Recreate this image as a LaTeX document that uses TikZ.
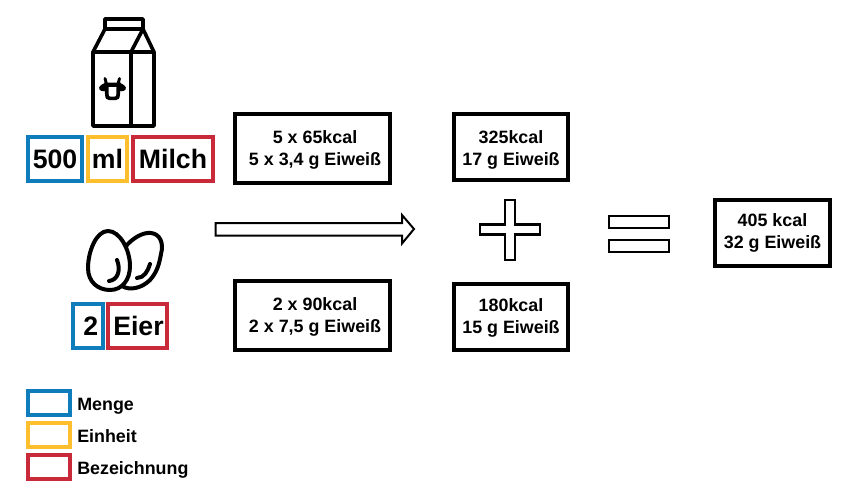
\documentclass[tikz,border=0pt]{standalone}
\usepackage{fontspec}
\setmainfont{Liberation Sans}
\usepackage{xcolor}
\usepackage{tikz}
\usetikzlibrary{positioning,calc}
\definecolor{mengeblue}{HTML}{0F7DBB}
\definecolor{einheityellow}{HTML}{FDBF2D}
\definecolor{namered}{HTML}{C92A39}

\begin{document}
\begin{tikzpicture}[
  x=0.75pt, y=-0.75pt,
  word/.style={draw, line width=2.7pt, font=\bfseries\fontsize{20}{24}\selectfont, inner sep=0pt, minimum height=33.3pt},
  calc/.style={draw=black, line width=3pt, align=center, font=\bfseries\fontsize{13.4}{16.5}\selectfont, inner sep=0pt},
  legend/.style={draw, line width=2.7pt, minimum width=31.5pt, minimum height=18pt, inner sep=0pt},
  legendtext/.style={font=\bfseries\fontsize{13.4}{16}\selectfont, inner sep=0pt, anchor=base west},
  symbol/.style={draw=black, line width=1.7pt, fill=white},
  icon/.style={draw=black, line width=2.7pt, line join=round, line cap=round}
]
\useasboundingbox (0,0) rectangle (861,500);

% milk carton
\draw[icon] (93,52) rectangle (154,126);
\draw[icon] (131,52) -- (131,126);
\draw[icon] (93,52) -- (105,29) -- (143,29) -- (154,52);
\draw[icon] (131,52) -- (143,29);
\draw[icon] (105,29) -- (105,19) -- (143,19) -- (143,29);
% cow head
\fill[black] (104,82.5) -- (121,82.5) -- (120,94) .. controls (120,99) and (118,100) .. (116,100) -- (109,100) .. controls (107,100) and (105,99) .. (105,94) -- cycle;
\fill[white] (108.5,87) -- (116.5,87) -- (116.3,94) .. controls (116.3,96) and (115.5,96.5) .. (114.5,96.5) -- (110.5,96.5) .. controls (109.5,96.5) and (108.7,96) .. (108.7,94) -- cycle;
\fill[black] (105,83) .. controls (101,84.5) and (98,87) .. (99.5,89.5) .. controls (101,91.5) and (105,92) .. (107,90) -- cycle;
\fill[black] (120,83) .. controls (124,84.5) and (127,87) .. (125.5,89.5) .. controls (124,91.5) and (120,92) .. (118,90) -- cycle;
\draw[black, line width=2.2pt, line cap=round] (105,78.5) -- (106.5,84);
\draw[black, line width=2.2pt, line cap=round] (119.5,78.5) -- (118,84);

% eggs
\draw[icon, line width=3pt] (126,246) .. controls (133,238) and (143,232) .. (151,233) .. controls (160,234) and (164,243) .. (161,254) .. controls (159,265) and (157,272) .. (150,280) .. controls (142,288) and (130,291) .. (122,286);
\draw[icon, line width=3pt] (137,278) .. controls (144,278) and (148,271) .. (150,264);
\draw[icon, line width=3pt] (108,231) .. controls (96,231) and (88,252) .. (88,268) .. controls (88,282) and (98,290) .. (110,290) .. controls (122,290) and (130,280) .. (130,266) .. controls (130,250) and (120,231) .. (108,231) -- cycle;
\draw[icon, line width=3pt] (117,260) .. controls (121,270) and (118,280) .. (109,281);

\node[word, draw=mengeblue, minimum width=40.9pt] (menge1) at (55,159) {500};
\node[word, draw=einheityellow, minimum width=29.6pt] (einheit1) at (107.5,159) {ml};
\node[word, draw=namered, minimum width=60.3pt] (name1) at (173,159) {Milch};
\node[word, draw=mengeblue, minimum width=22.8pt] (menge2) at (88,326) {\kern4pt 2};
\node[word, draw=namered, minimum width=44.6pt] (name2) at (137.5,326) {\kern1.5pt Eier};

\node[calc, minimum width=116.25pt, minimum height=51.75pt] (calc1) at (312.5,148.5) {\rule{0pt}{11.5pt}\kern3.8pt 5 x 65kcal\\\kern3.8pt 5 x 3,4 g Eiweiß};
\node[calc, minimum width=85.5pt, minimum height=49.5pt] (sum1) at (511,147) {\rule{0pt}{13.6pt}325kcal\\17 g Eiweiß};
\node[calc, minimum width=116.25pt, minimum height=51.75pt] (calc2) at (312.5,315.5) {\rule{0pt}{11.5pt}\kern3.8pt 2 x 90kcal\\\kern3.8pt 2 x 7,5 g Eiweiß};
\node[calc, minimum width=85.5pt, minimum height=49.5pt] (sum2) at (511,317) {\rule{0pt}{11.5pt}180kcal\\15 g Eiweiß};
\node[calc, minimum width=86.25pt, minimum height=49.5pt] (total) at (772.5,233) {405 kcal\\32 g Eiweiß};

% arrow, plus, equals
\draw[symbol, line width=1.5pt] (215.5,223) -- (402,223) -- (402,215) -- (414,229) -- (402,243.5) -- (402,235.5) -- (215.5,235.5) -- cycle;
\draw[symbol] (505,200) -- (515,200) -- (515,224.5) -- (540,224.5) -- (540,234.5) -- (515,234.5) -- (515,260) -- (505,260) -- (505,234.5) -- (480,234.5) -- (480,224.5) -- (505,224.5) -- cycle;
\node[symbol, minimum width=45pt, minimum height=8.5pt, inner sep=0pt] (equal1) at (639,222) {};
\node[symbol, minimum width=45pt, minimum height=8.5pt, inner sep=0pt] (equal2) at (639,246) {};

\node[legend, draw=mengeblue] (keymenge) at (49,403) {};
\node[legend, draw=einheityellow] (keyeinheit) at (49,435) {};
\node[legend, draw=namered] (keyname) at (49,467) {};
\node[legendtext] (labelmenge) at (77,410.5) {Menge};
\node[legendtext] (labeleinheit) at (77,442.5) {Einheit};
\node[legendtext] (labelname) at (77,474.5) {Bezeichnung};
\end{tikzpicture}
\end{document}
